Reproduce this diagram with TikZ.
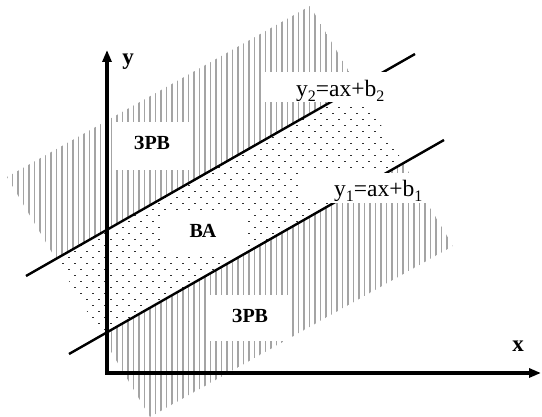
\documentclass[tikz,border=0pt]{standalone}
\usepackage{fontspec}
\setmainfont{Liberation Serif}
\usetikzlibrary{arrows.meta}
\definecolor{hatchgray}{HTML}{A4A4A4}
\definecolor{dotgray}{HTML}{303030}
\tikzset{
  hatchline/.style={draw=hatchgray,line width=1.1pt},
  dotmark/.style={fill=dotgray},
  bandline/.style={line width=2.4pt},
  axisline/.style={line width=3.2pt,line join=miter,{Triangle[length=12pt,width=9pt]}-{Triangle[length=12pt,width=9pt]}},
  axislabel/.style={inner sep=0pt,font=\fontsize{23}{27}\selectfont\bfseries},
  zonelabel/.style={inner sep=0pt,font=\fontsize{20}{23}\selectfont\bfseries},
  eqlabel/.style={inner sep=0pt,font=\fontsize{23.5}{27}\selectfont},
  labelbox/.style={fill=white}
}
\newcommand{\lowsub}[1]{\raisebox{-0.2em}{\fontsize{16}{18}\selectfont #1}}
\begin{document}
\begin{tikzpicture}[x=1pt,y=-1pt]
\useasboundingbox (0,0) rectangle (542,417);
% rotated rectangle corners
\coordinate (A) at (7,177);
\coordinate (B) at (310,6);
\coordinate (C) at (453,246);
\coordinate (D) at (150,417);
% upper hatch (above y2)
\begin{scope}
  \clip (A) -- (B) -- (C) -- (D) -- cycle;
  \clip (0,290.8) -- (550,-23) -- (550,-100) -- (0,-100) -- cycle;
  \foreach \i in {0,...,82}{
    \draw[hatchline] ({7+5.5*\i},0) -- ({7+5.5*\i},420);
  }
\end{scope}
% lower hatch (below y1)
\begin{scope}
  \clip (A) -- (B) -- (C) -- (D) -- cycle;
  \clip (0,393.4) -- (550,79.5) -- (550,500) -- (0,500) -- cycle;
  \foreach \i in {0,...,82}{
    \draw[hatchline] ({7+5.5*\i},0) -- ({7+5.5*\i},420);
  }
\end{scope}
% dotted band
\begin{scope}
  \clip (A) -- (B) -- (C) -- (D) -- cycle;
  \clip (0,290.8) -- (550,-23) -- (550,79.5) -- (0,393.4) -- cycle;
  \foreach \r in {0,...,57}{
    \pgfmathsetmacro\yy{59+6*\r}
    \pgfmathsetmacro\xo{mod(\r,2)*6}
    \foreach \c in {0,...,39}{
      \fill[dotmark] ({\xo+2+12*\c},\yy) rectangle ++(1.5,1.5);
    }
  }
\end{scope}
% white backgrounds of zone labels
\fill[labelbox] (112,122) rectangle (190,170);
\fill[labelbox] (163,212) rectangle (245,255);
\fill[labelbox] (210,295) rectangle (290,341);
% band lines
\coordinate (L2a) at (26,276);
\coordinate (L2b) at (415,54);
\coordinate (L1a) at (69,354);
\coordinate (L1b) at (444,140);
\draw[bandline] (L2a) -- (L2b);
\draw[bandline] (L1a) -- (L1b);
% axes
\coordinate (yTip) at (107,50);
\coordinate (O) at (107,373);
\coordinate (xTip) at (541,373);
\draw[axisline] (yTip) -- (O) -- (xTip);
% equation label backgrounds
\fill[labelbox] (262,72) rectangle (418,102);
\fill[labelbox] (298,173) rectangle (440,203);
% texts
\node[axislabel,anchor=base] (ylab) at (128,65) {y};
\node[axislabel,anchor=base] (xlab) at (518,352) {x};
\node[zonelabel,anchor=base] (zrv1) at (152,150) {ЗРВ};
\node[zonelabel,anchor=base] (va) at (203,238) {ВА};
\node[zonelabel,anchor=base] (zrv2) at (250,323) {ЗРВ};
\node[eqlabel,anchor=base west] (eq2) at (296,97) {y\lowsub{2}=ax+b\lowsub{2}};
\node[eqlabel,anchor=base west] (eq1) at (334,197) {y\lowsub{1}=ax+b\lowsub{1}};
\end{tikzpicture}
\end{document}
